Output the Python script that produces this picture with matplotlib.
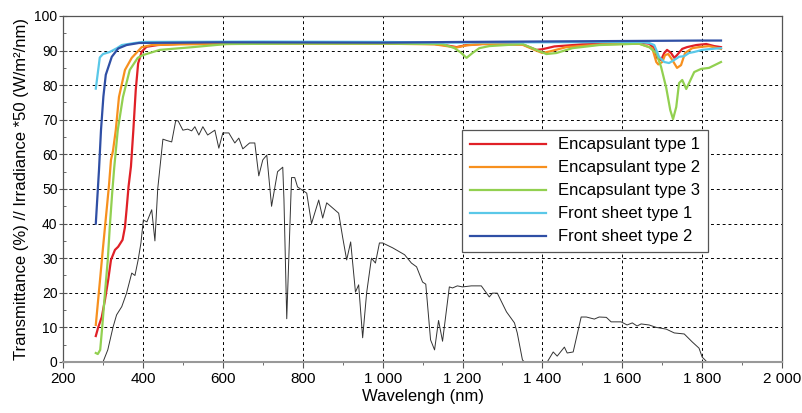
import matplotlib

matplotlib.use("Agg")

import matplotlib.pyplot as plt
from matplotlib.ticker import MultipleLocator, FuncFormatter

plt.rcParams["font.family"] = ["Liberation Sans", "DejaVu Sans"]

# irradiance (x50)
irr_wl = [300, 312, 325, 334, 347, 359, 372, 380, 388, 395, 401, 410, 422, 430, 437,
          450, 460, 472, 482, 488, 500, 512, 522, 530, 540, 550, 562, 580, 590, 600,
          615, 630, 640, 650, 667, 680, 690, 700, 710, 722, 737, 750, 753, 760, 772,
          780, 787, 810, 822, 840, 850, 860, 890, 900, 910, 920, 932, 940, 950, 960,
          972, 982, 992, 1000, 1025, 1055, 1072, 1085, 1100, 1108, 1120, 1130, 1140, 1150, 1167,
          1175, 1187, 1200, 1222, 1247, 1267, 1275, 1287, 1310, 1330, 1337, 1350, 1355, 1412, 1427,
          1437, 1455, 1462, 1477, 1497, 1510, 1530, 1542, 1560, 1572, 1597, 1612, 1625, 1637, 1647,
          1667, 1685, 1710, 1730, 1755, 1775, 1792, 1800, 1812]
irr_val = [0, 3.5, 10, 13.6, 16, 19.9, 25.7, 25, 29.5, 34.4, 41, 40.5, 44, 35, 50,
           64.4, 64, 63.6, 69.7, 69.7, 67, 67.3, 66.8, 68, 65.6, 68, 65.6, 67, 61.8, 66.2,
           66.2, 63.3, 64.7, 61.6, 63.3, 63.3, 53.8, 58.4, 59.8, 45, 55, 56.3, 47, 12.5, 53.3,
           53.3, 50.6, 48.8, 40, 46.8, 41.6, 46, 43, 36, 29.5, 34.7, 20.2, 22.3, 7, 20,
           30, 28.6, 34.4, 34.4, 33, 31, 28.6, 27.5, 23.1, 22.5, 6.4, 3.5, 12, 6, 21.7,
           21.4, 22, 21.7, 22, 22, 18.8, 19.9, 19.9, 14.5, 11.3, 8.4, 0.6, 0, 0, 2.9,
           1.7, 4.3, 2.6, 2.9, 13, 13, 12.4, 13, 12.9, 11.6, 11.6, 10.7, 11.3, 10.4, 11,
           10.7, 10, 9.5, 8.4, 8.1, 5.8, 4, 1.4, 0]

enc1_wl = [282, 288, 297, 305, 313, 320, 330, 338, 349, 355, 359, 364, 370, 376, 382,
           388, 397, 409, 437, 500, 700, 1000, 1130, 1160, 1185, 1210, 1250, 1350, 1385, 1400,
           1430, 1500, 1600, 1650, 1667, 1680, 1687, 1697, 1705, 1712, 1722, 1730, 1737, 1750, 1762,
           1785, 1810, 1830, 1847]
enc1_t = [7.5, 10, 13, 18, 23.7, 29.5, 32.4, 33.3, 35.3, 39, 44, 50.7, 56.5, 67, 78.6,
          86.3, 89.7, 91.1, 91.6, 92, 92.2, 92.1, 91.9, 91.5, 91, 91.6, 91.9, 91.8, 90.2, 90.4,
          91.2, 91.8, 92.1, 92.2, 92, 90.7, 87.9, 87.3, 89.3, 90.2, 89.3, 87.9, 88.7, 90.5, 91,
          91.6, 91.9, 91.3, 91]

enc2_wl = [282, 292, 300, 310, 315, 320, 325, 332, 340, 355, 372, 397, 422, 500, 700,
           1000, 1130, 1160, 1185, 1210, 1250, 1350, 1380, 1400, 1420, 1460, 1550, 1642, 1675, 1685,
           1690, 1700, 1707, 1715, 1725, 1737, 1747, 1757, 1775, 1792, 1817, 1847]
enc2_t = [10.7, 23, 33, 45, 51, 58.4, 61, 67, 76.6, 84.4, 87.9, 91, 91.6, 91.8, 92,
          92, 91.8, 91.3, 90.9, 91.5, 91.9, 91.7, 90.2, 89.3, 89.8, 91, 91.8, 92, 90.7, 86.7,
          86, 86.7, 88.7, 89, 87.3, 85, 85.8, 89.3, 90.7, 91, 91.3, 90.5]

enc3_wl = [282, 287, 293, 298, 305, 312, 317, 323, 328, 337, 350, 367, 387, 400, 442,
           525, 610, 800, 1000, 1150, 1180, 1195, 1210, 1225, 1242, 1267, 1350, 1385, 1410, 1435,
           1475, 1542, 1642, 1667, 1685, 1697, 1710, 1720, 1727, 1735, 1742, 1750, 1760, 1767, 1780,
           1797, 1817, 1847]
enc3_t = [2.6, 2.3, 3.5, 10, 20, 29.5, 39, 48.8, 56, 67, 76.6, 84.4, 87.9, 88.7, 90.2,
          91, 91.9, 92, 92, 91.9, 90.7, 89.5, 87.9, 89.3, 90.7, 91.3, 91.9, 90.2, 89, 89.3,
          90.7, 91.6, 92, 91, 89.3, 85.3, 79.2, 72.8, 70.2, 73.7, 80.6, 81.5, 78.9, 80.6, 83.8,
          84.7, 85, 86.7]

fs1_wl = [282, 292, 300, 317, 335, 347, 380, 400, 700, 1000, 1150, 1400, 1642, 1667, 1680,
          1692, 1705, 1717, 1730, 1742, 1755, 1767, 1780, 1800, 1825, 1847]
fs1_t = [79, 88, 89, 89.6, 90.7, 91.6, 92.2, 92.5, 92.6, 92.5, 92.3, 92.4, 92.5, 92.2, 91.6,
         88.2, 86.7, 86.4, 87.3, 88.2, 88.4, 89.3, 89.6, 90.2, 90.5, 90.7]

fs2_wl = [282, 290, 295, 301, 307, 322, 338, 359, 390, 600, 1000, 1200, 1500, 1800, 1847]
fs2_t = [40, 55.5, 67, 76.7, 83, 88.2, 90.6, 91.6, 92.2, 92.4, 92.3, 92.5, 92.7, 92.9, 92.9]

series = [
    ("Encapsulant type 1", enc1_wl, enc1_t, "#e02027"),
    ("Encapsulant type 2", enc2_wl, enc2_t, "#f7901e"),
    ("Encapsulant type 3", enc3_wl, enc3_t, "#92d050"),
    ("Front sheet type 1", fs1_wl, fs1_t, "#5ac8e8"),
    ("Front sheet type 2", fs2_wl, fs2_t, "#2f4fa5"),
]

fig = plt.figure(figsize=(8.02, 4.13), dpi=100)
ax = fig.add_axes([0.0786, 0.1235, 0.8966, 0.8378])

ax.plot(irr_wl, irr_val, color="#333333", linewidth=0.7, zorder=2)
for label, wl, t, col in series:
    ax.plot(wl, t, color=col, linewidth=1.6, label=label, zorder=3)

ax.set_xlim(200, 2000)
ax.set_ylim(0, 100)
ax.xaxis.set_major_locator(MultipleLocator(200))
ax.xaxis.set_minor_locator(MultipleLocator(100))
ax.yaxis.set_major_locator(MultipleLocator(10))
ax.yaxis.set_minor_locator(MultipleLocator(5))
ax.xaxis.set_major_formatter(FuncFormatter(lambda v, p: f"{int(v):,}".replace(",", " ")))

ax.grid(True, which="major", color="black", linestyle=(0, (3, 3)), linewidth=0.7)
ax.tick_params(axis="x", which="major", direction="out", length=4, labelsize=11, color="#555555")
ax.tick_params(axis="x", which="minor", direction="out", length=2, color="#555555")
ax.tick_params(axis="y", which="major", direction="inout", length=6, labelsize=10, color="#555555", pad=1)
ax.tick_params(axis="y", which="minor", direction="in", length=2, color="#555555")
for s in ["top", "right", "left"]:
    ax.spines[s].set_color("#555555")
    ax.spines[s].set_linewidth(0.9)
ax.spines["bottom"].set_color("#999999")
ax.spines["bottom"].set_linewidth(1.5)

ax.set_xlabel("Wavelengh (nm)", fontsize=12, labelpad=2)
ax.set_ylabel("Transmittance (%) // Irradiance *50 (W/m²/nm)", fontsize=12, labelpad=4)

leg = ax.legend(loc="upper left", bbox_to_anchor=(0.555, 0.6705), fontsize=12,
                fancybox=False, framealpha=1, edgecolor="#555555", handlelength=4.6,
                handletextpad=0.7, labelspacing=0.48, borderpad=0.45, borderaxespad=0)
leg.get_frame().set_linewidth(0.9)

fig.savefig("out.png", dpi=100)
